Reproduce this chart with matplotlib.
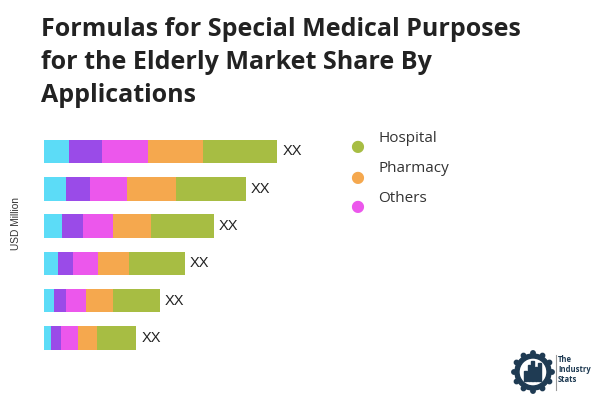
import matplotlib
matplotlib.use("Agg")
import matplotlib.pyplot as plt
import numpy as np
from matplotlib.patches import Circle, Wedge, Rectangle

# Data (stacked segments, row 0 at top)
rows = ["R1", "R2", "R3", "R4", "R5", "R6"]
seg_cyan    = [25.3, 21.7, 18.3, 14.0, 9.7, 7.0]
seg_purple  = [32.4, 24.3, 20.4, 14.7, 12.0, 9.7]
seg_others  = [46.6, 37.0, 30.6, 25.3, 20.7, 17.0]
seg_pharm   = [54.4, 48.7, 37.4, 31.0, 26.3, 19.0]
seg_hosp    = [74.6, 70.0, 63.0, 55.7, 47.3, 39.7]
bar_labels = ["XX"] * 6

legend_names = ["Hospital", "Pharmacy", "Others"]
colors = {"cyan": "#5CDCF7", "purple": "#9A4BE8", "others": "#EC57EC",
          "pharm": "#F5A84E", "hosp": "#A7BD43"}

fig = plt.figure(figsize=(6, 4), dpi=100)
W, H = 600, 400
ax_left, ax_right = 44, 344
ax_top, ax_bot = 132.8, 356.7
ax = fig.add_axes([ax_left / W, 1 - ax_bot / H, (ax_right - ax_left) / W, (ax_bot - ax_top) / H])
ax.set_xlim(0, ax_right - ax_left)
ax.set_ylim(len(rows) - 0.5, -0.5)
ax.axis("off")

y = np.arange(len(rows))
left = np.zeros(len(rows))
bh = 0.63
for vals, c in [(seg_cyan, colors["cyan"]), (seg_purple, colors["purple"]),
                (seg_others, colors["others"]), (seg_pharm, colors["pharm"]),
                (seg_hosp, colors["hosp"])]:
    ax.barh(y, vals, left=left, height=bh, color=c, edgecolor="none")
    left = left + np.array(vals)

for yi, tot, lab in zip(y, left, bar_labels):
    ax.text(tot + 5, yi, lab, va="center", ha="left", fontsize=10.5,
            family="Liberation Sans", color="#222222")

# Title
fig.text(41 / W, 1 - 17 / H, "Formulas for Special Medical Purposes\nfor the Elderly Market Share By\nApplications",
         ha="left", va="top", fontsize=18, fontweight="bold", family="Open Sans",
         color="#222222", linespacing=1.43)

# Y label
fig.text(16 / W, 1 - 223 / H, "USD Million", rotation=90, ha="center", va="center",
         fontsize=7.3, family="Liberation Sans", color="#333333")

# Legend
leg_colors = [colors["hosp"], colors["pharm"], colors["others"]]
for i, (name, c) in enumerate(zip(legend_names, leg_colors)):
    cy = 147 + 30 * i
    fig.text(357 / W, 1 - cy / H, "\u25CF", ha="center", va="center", fontsize=11.5,
             color=c, family="DejaVu Sans")
    fig.text(378 / W, 1 - (cy - 8.5) / H, name, ha="left", va="center", fontsize=11,
             family="Open Sans", color="#333333")

# Logo (approximation)
lax = fig.add_axes([505 / W, 1 - 395 / H, 95 / W, 50 / H])
lax.set_xlim(0, 95)
lax.set_ylim(50, 0)
lax.axis("off")
navy = "#1F3B53"
lax.add_patch(Wedge((28, 27), 18, 0, 360, width=4, color=navy))
for ang in np.arange(0, 360, 30):
    r = np.deg2rad(ang)
    lax.add_patch(Circle((28 + 19 * np.cos(r), 27 + 19 * np.sin(r)), 2.2, color=navy))
for j, hgt in enumerate([10, 16, 20, 14, 18]):
    lax.add_patch(Rectangle((19 + j * 3.6, 36 - hgt), 2.6, hgt, color=navy))
lax.plot([51, 51], [10, 45], color="#999999", lw=0.8)
for k, t in enumerate(["The", "Industry", "Stats"]):
    lax.text(53, 14 + 10.5 * k, t, fontsize=5.5, fontweight="bold", color=navy,
             family="Open Sans", va="center", ha="left")

fig.savefig("out.png", dpi=100, facecolor="white")
